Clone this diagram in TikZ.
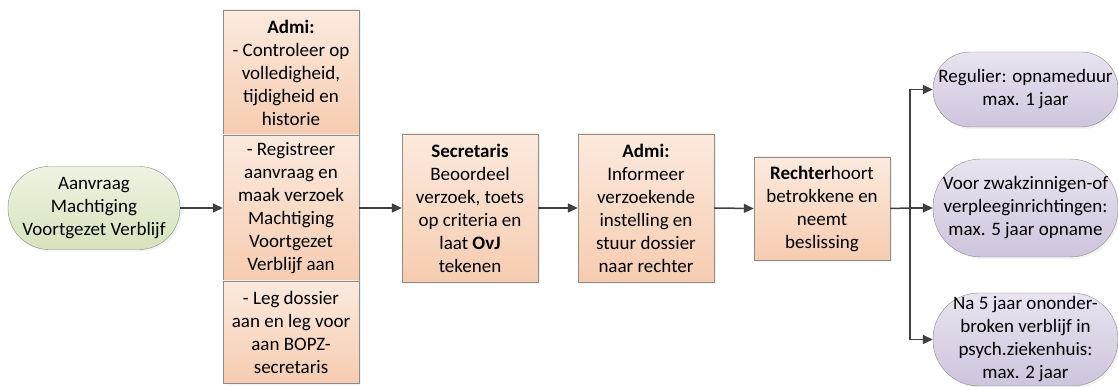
\documentclass[tikz,border=0pt]{standalone}
\usepackage{fontspec}
\setmainfont{Carlito}
\usepackage{tikz}
\usetikzlibrary{arrows.meta, positioning, shadows}
\definecolor{peachtop}{RGB}{252,234,222}
\definecolor{peachbot}{RGB}{246,204,176}
\definecolor{greentop}{RGB}{238,243,226}
\definecolor{greenbot}{RGB}{214,227,188}
\definecolor{lilactop}{RGB}{233,228,240}
\definecolor{lilacbot}{RGB}{206,196,220}

\begin{document}
\begin{tikzpicture}[x=1pt,y=1pt]
    \tikzstyle{every node} = [font=\fontsize{19}{23}\selectfont, align=center, inner sep=1pt]
    \tikzstyle{block} = [draw=black!45, rectangle, top color=peachtop, bottom color=peachbot, minimum width=136pt, drop shadow={shadow xshift=2pt, shadow yshift=-2pt, fill=black!10}]
    \tikzstyle{startoval} = [draw=black!45, rectangle, rounded corners=41pt, top color=greentop, bottom color=greenbot, minimum width=172pt, minimum height=83pt, drop shadow={shadow xshift=2pt, shadow yshift=-2pt, fill=black!10}]
    \tikzstyle{endoval} = [draw=black!45, rectangle, top color=lilactop, bottom color=lilacbot, minimum width=185pt, drop shadow={shadow xshift=2pt, shadow yshift=-2pt, fill=black!10}]
    \tikzstyle{flow} = [-{Triangle[length=10pt,width=9pt]}, line width=1.5pt, black!75]
    \useasboundingbox (0,0) rectangle (1118,387);

    % place nodes
    \node[startoval](aanvraag) at (94,179){Aanvraag\\Machtiging\\Voortgezet Verblijf};

    \node[block, minimum height=125pt](controle) at (291,314.5){\textbf{Admi:}\\- Controleer op\\volledigheid,\\tijdigheid en\\historie};
    \node[block, minimum height=146pt](registreer) at (291,179){- Registreer\\aanvraag en\\maak verzoek\\Machtiging\\Voortgezet\\Verblijf aan};
    \node[block, minimum height=102pt](dossier) at (291,55){- Leg dossier\\aan en leg voor\\aan BOPZ-\\secretaris};

    \node[block, minimum height=148pt](secretaris) at (470,179){\textbf{Secretaris}\\Beoordeel\\verzoek, toets\\op criteria en\\laat \textbf{OvJ}\\tekenen};
    \node[block, minimum height=148pt](informeer) at (646,179){\textbf{Admi:}\\Informeer\\verzoekende\\instelling en\\stuur dossier\\naar rechter};
    \node[block, minimum height=103pt](rechter) at (822,178.5){\textbf{Rechter}hoort\\betrokkene en\\neemt\\beslissing};

    \coordinate (split) at (910,179);
    \node[endoval, minimum height=75pt, rounded corners=37pt](regulier) at (1025.5,297.5){Regulier: opnameduur\\max. 1 jaar};
    \node[endoval, minimum height=98pt, rounded corners=48pt](zwakzinnig) at (1025.5,179){Voor zwakzinnigen-of\\verpleeginrichtingen:\\max. 5 jaar opname};
    \node[endoval, minimum height=93pt, rounded corners=46pt](psych) at (1025.5,47.5){Na 5 jaar ononder-\\broken verblijf in\\psych.ziekenhuis:\\max. 2 jaar};

    % Connections
    \draw[flow] (aanvraag.east) -- (registreer.west);
    \draw[flow] (registreer.east) -- (secretaris.west);
    \draw[flow] (secretaris.east) -- (informeer.west);
    \draw[flow] (informeer.east) -- (rechter.west);
    \draw[line width=1.5pt, black!75] (rechter.east) -- (split);
    \draw[flow] (split) |- (regulier.west);
    \draw[flow] (split) -- (zwakzinnig.west);
    \draw[flow] (split) |- (psych.west);
\end{tikzpicture}
\end{document}
